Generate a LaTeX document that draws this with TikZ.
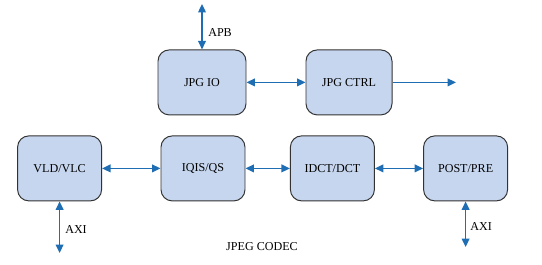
\documentclass[tikz,border=0pt]{standalone}
\usepackage{fontspec}
\setmainfont{Liberation Serif}
\usepackage{xcolor}
\usetikzlibrary{arrows.meta}
\definecolor{BoxFill}{HTML}{C6D6EF}
\definecolor{BoxLine}{HTML}{333333}
\definecolor{Link}{HTML}{1F6EB4}

\begin{document}
\begin{tikzpicture}[
  block/.style={rectangle, rounded corners=8pt, draw=BoxLine, line width=0.7pt, fill=BoxFill, minimum width=2.1cm, minimum height=1.625cm, align=center, font=\fontsize{8.6}{10}\selectfont},
  link/.style={{Triangle[length=6pt,width=5.5pt]}-{Triangle[length=6pt,width=5.5pt]}, line width=1pt, draw=Link},
  outlink/.style={-{Triangle[length=6pt,width=5.5pt]}, line width=1pt, draw=Link},
  tag/.style={anchor=west, inner sep=0pt, font=\fontsize{8.6}{10}\selectfont}
]
\useasboundingbox (0,0) rectangle (13.55,6.6);

\node[block, minimum width=2.2cm] (jpgio) at (5.05,4.54) {JPG IO};
\node[block, minimum width=2.15cm] (jpgctrl) at (8.725,4.54) {JPG CTRL};

\node[block] (vld) at (1.49,2.39) {VLD/VLC};
\node[block] (iqis) at (5.075,2.39) {IQIS/QS};
\node[block] (idct) at (8.31,2.39) {IDCT/DCT};
\node[block] (post) at (11.64,2.39) {POST/PRE};

\coordinate (apb) at (5.05,6.5);
\coordinate (ctrlout) at (11.4,4.54);
\coordinate (axil) at (1.49,0.275);
\coordinate (axir) at (11.64,0.425);

\draw[link] (apb) -- (jpgio.north);
\draw[link] (jpgio) -- (jpgctrl);
\draw[outlink] (jpgctrl) -- (ctrlout);
\draw[link] (vld) -- (iqis);
\draw[link] (iqis) -- (idct);
\draw[link] (idct) -- (post);
\draw[link] (vld.south) -- (axil);
\draw[link] (post.south) -- (axir);

\node[tag] (apblabel) at (5.2,5.775) {APB};
\node[tag] (axillabel) at (1.625,0.85) {AXI};
\node[tag] (axirlabel) at (11.75,0.925) {AXI};
\node[font=\fontsize{8.6}{10}\selectfont] (codec) at (6.55,0.425) {JPEG CODEC};
\end{tikzpicture}
\end{document}
